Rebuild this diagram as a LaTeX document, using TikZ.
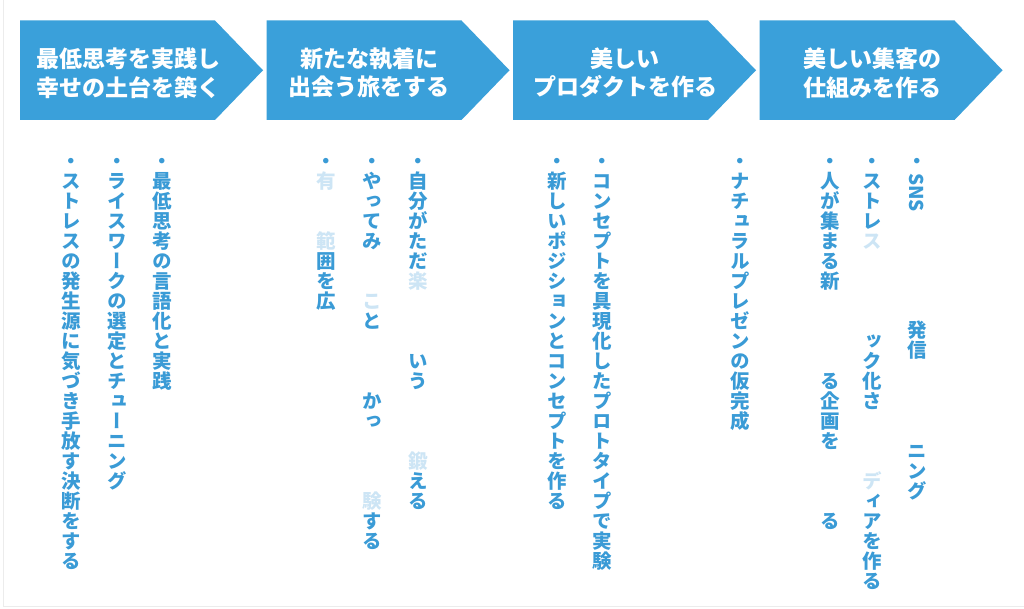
\documentclass[tikz,border=0pt]{standalone}
\usepackage{fontspec}
\newfontfamily\jp{Noto Sans CJK JP}
\newfontfamily\vjp[RawFeature=+vert]{Noto Sans CJK JP}
\definecolor{chev}{RGB}{58,160,218}
\definecolor{txt}{RGB}{58,155,214}
\definecolor{faint}{RGB}{205,229,245}
\definecolor{frame}{RGB}{236,236,236}
\newlength\cwid \setlength\cwid{19.5pt}
\newcommand\vch[1]{\hbox to \cwid{\vrule height 17.3pt depth 2.7pt width 0pt\hss\smash{#1}\hss}}
\newcommand\fa[1]{\textcolor{faint}{#1}}
\ExplSyntaxOn
\NewDocumentCommand\vtext{m}{\vbox{\offinterlineskip\tl_map_inline:nn{#1}{\vch{##1}}}}
\ExplSyntaxOff
\tikzset{
  chevron/.style={fill=chev, draw=none},
  ctext/.style={text=white, align=center, inner sep=0pt, font=\jp\bfseries\fontsize{23}{28.5}\selectfont},
  vt/.style={inner sep=0pt, anchor=north, text=txt, font=\vjp\bfseries\fontsize{19.5}{20}\selectfont},
}
\begin{document}
\begin{tikzpicture}[x=1pt,y=-1pt]
\useasboundingbox (0,0) rectangle (1024,609);
\fill[white] (0,0) rectangle (1024,609);
\draw[frame, line width=1pt] (3,0) -- (3,606) -- (1024,606);
% chevrons
\foreach \l in {20,266.5,513,759.5}{
  \fill[chevron] (\l,20.5) -- ++(195,0) -- ++(48,49.75) -- ++(-48,49.75) -- (\l,120) -- cycle;
}
\node[ctext] (t1) at (128,73) {最低思考を実践し\\幸せの土台を築く};
\node[ctext] (t2) at (369,73) {新たな執着に\\出会う旅をする};
\node[ctext] (t3) at (625,73) {美しい\\プロダクトを作る};
\node[ctext] (t4) at (872,73) {美しい集客の\\仕組みを作る};
% group 1
\node[vt] (c1a) at (162,151) {\vtext{・最低思考の言語化と実践}};
\node[vt] (c1b) at (117,151) {\vtext{・ライスワークの選定とチューニング}};
\node[vt] (c1c) at (71,151) {\vtext{・ストレスの発生源に気づき手放す決断をする}};
% group 2
\node[vt] (c2a) at (418,151) {\vtext{・自分がただ{\fa{楽}}{}{}{}いう{}{}{}{\fa{鍛}}える}};
\node[vt] (c2b) at (372,151) {\vtext{・やってみ{}{}{\fa{こ}}と{}{}{}かっ{}{}{}{\fa{験}}する}};
\node[vt] (c2c) at (326,151) {\vtext{・{\fa{有}}{}{}{\fa{範}}囲を広}};
% group 3
\node[vt] (c3a) at (602,151) {\vtext{・コンセプトを具現化したプロトタイプで実験}};
\node[vt] (c3b) at (557,151) {\vtext{・新しいポジションとコンセプトを作る}};
\node[vt] (c3c) at (740,151) {\vtext{・ナチュラルプレゼンの仮完成}};
% group 4
\node[vt] (c4a) at (917,151) {\vtext{・}};
\node[rotate=-90, anchor=west, inner sep=0pt, text=txt, font=\jp\bfseries\fontsize{19}{20}\selectfont] (sns) at (917,173) {SNS};
\node[vt] (c4a2) at (917,320) {\vtext{発信}};
\node[vt] (c4a3) at (917,441) {\vtext{ニング}};
\node[vt] (c4b) at (872,151) {\vtext{・ストレ{\fa{ス}}{}{}{}{}ック化さ{}{}{}{\fa{デ}}ィアを作る}};
\node[vt] (c4c) at (830,151) {\vtext{・人が集まる新{}{}{}{}る企画を{}{}{}る}};
\end{tikzpicture}
\end{document}
